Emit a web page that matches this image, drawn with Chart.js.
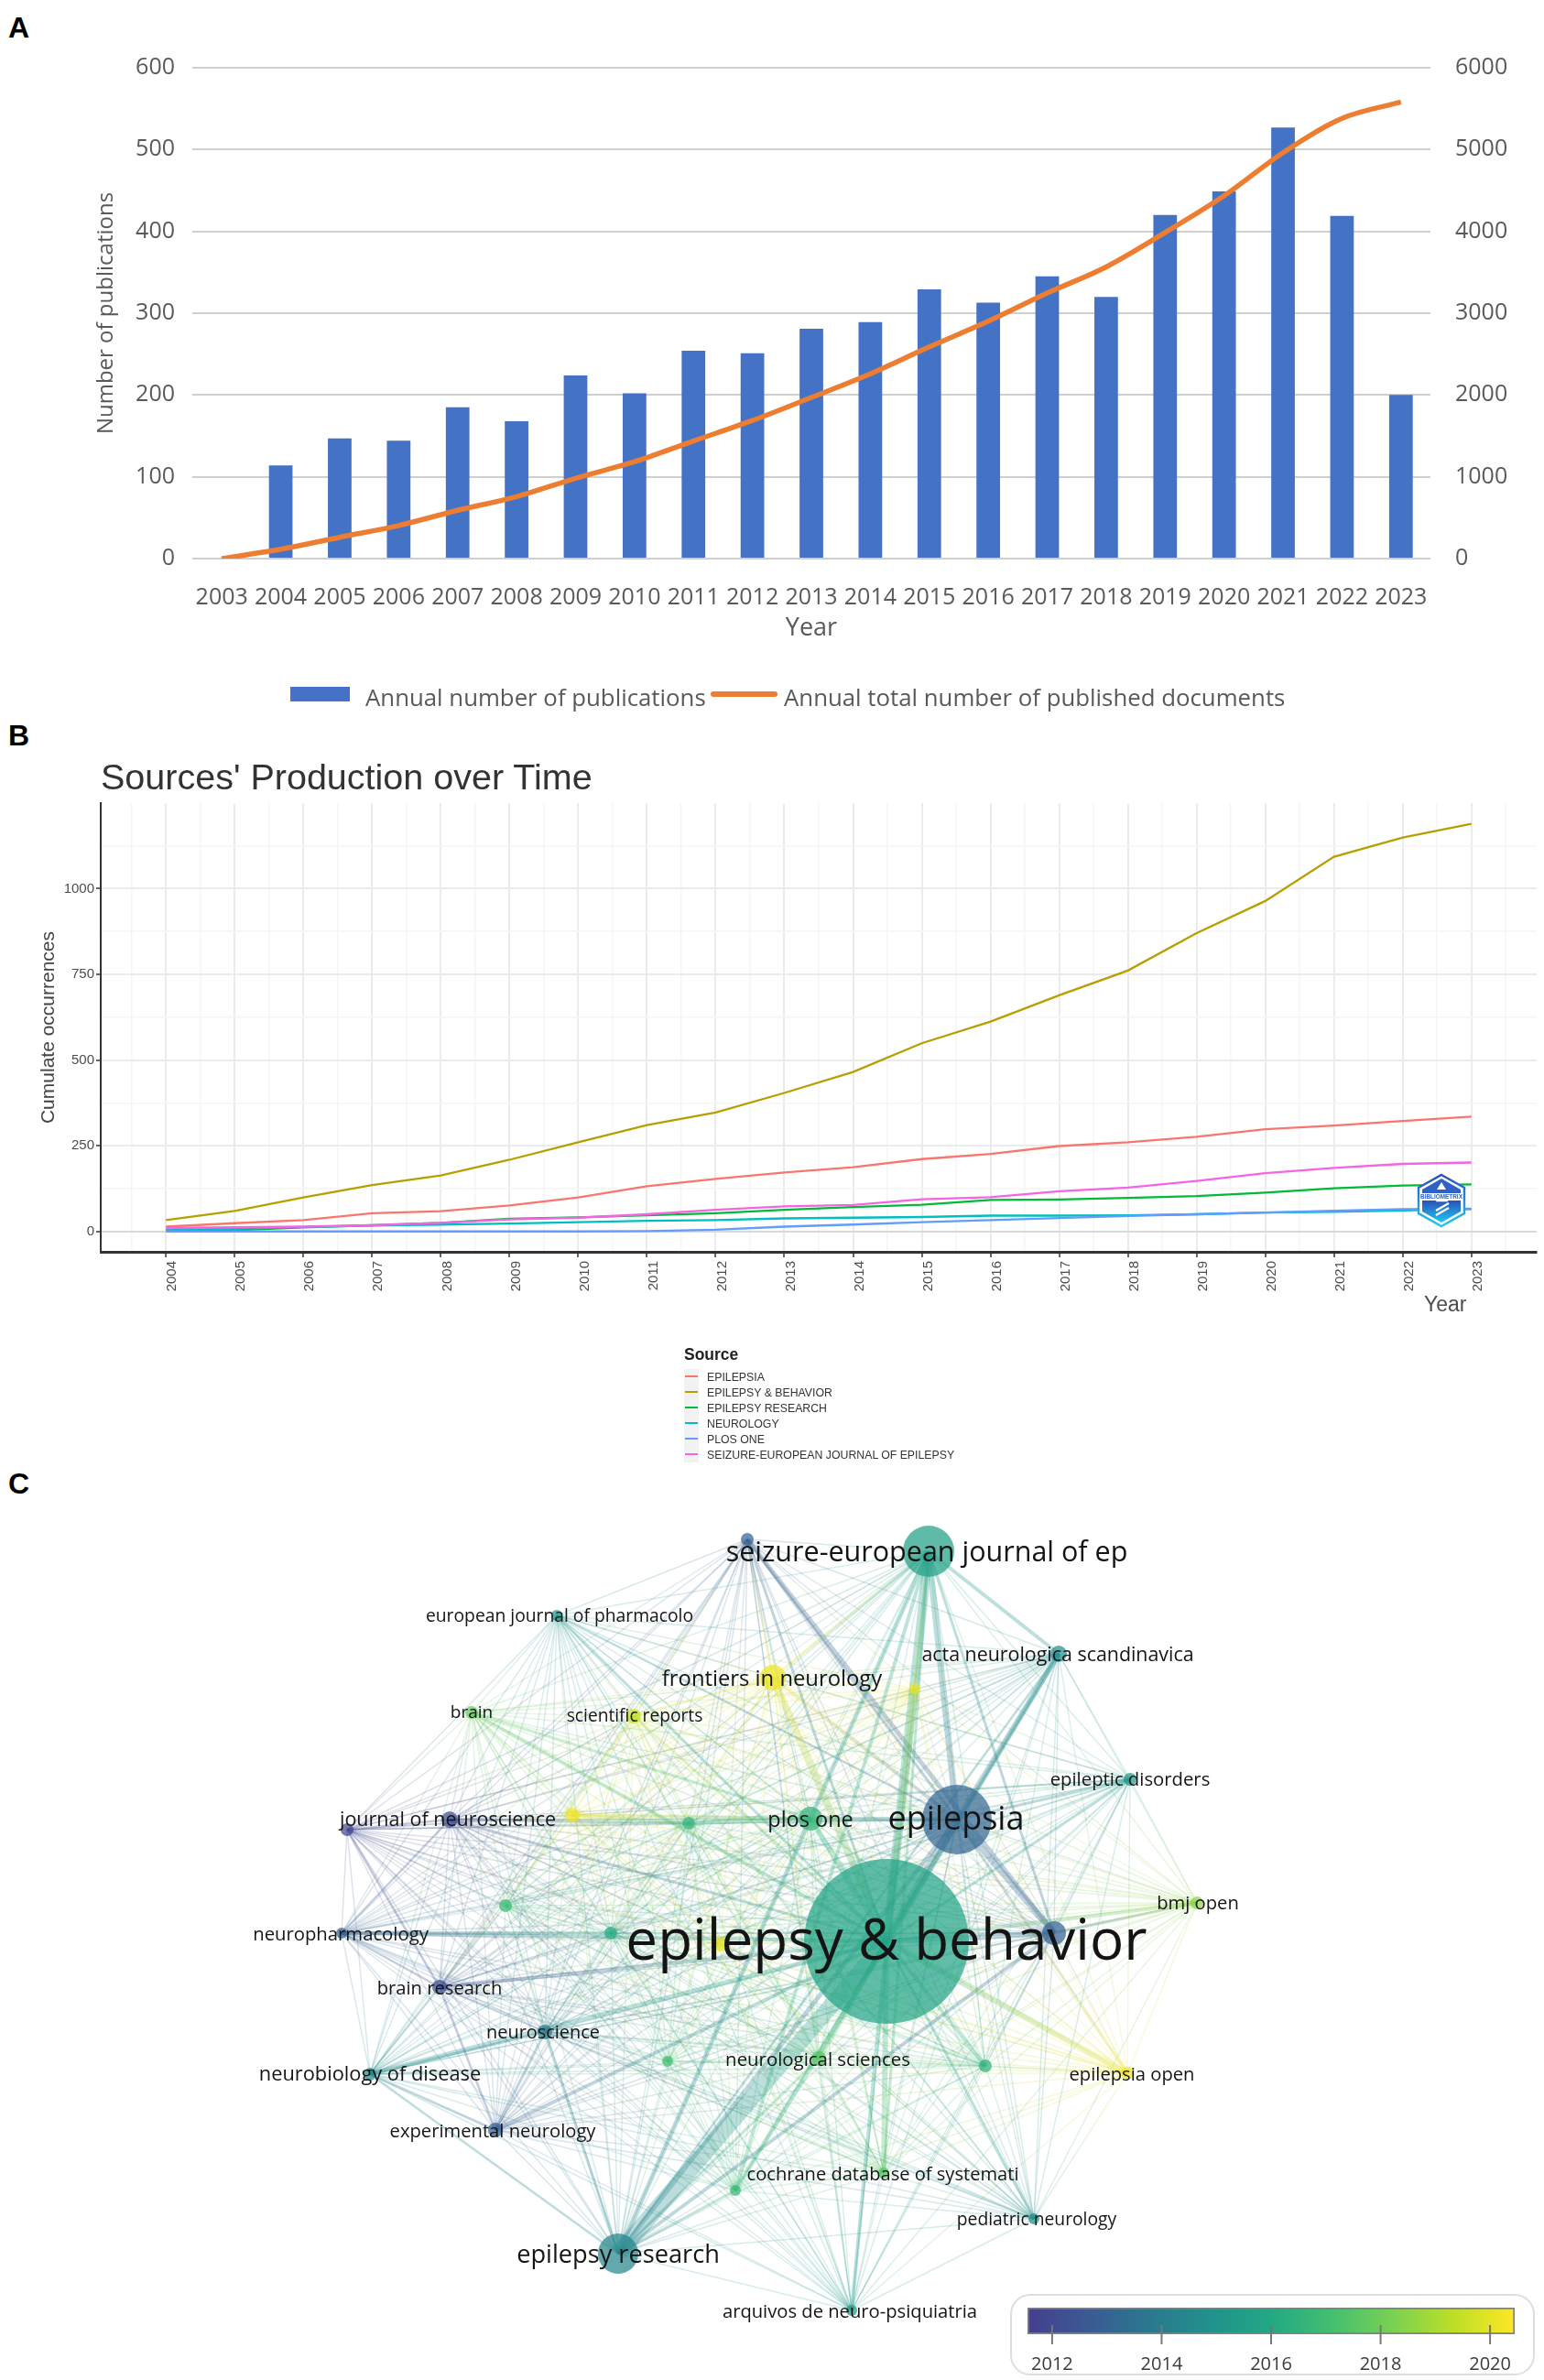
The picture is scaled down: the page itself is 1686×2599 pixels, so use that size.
<!DOCTYPE html>
<html>
<head>
<meta charset="utf-8">
<title>Epilepsy bibliometrics</title>
<script src="https://cdn.jsdelivr.net/npm/chart.js@4"></script>
<style>
html, body { margin: 0; padding: 0; background: #fff; }
body { position: relative; width: 1686px; height: 2599px; overflow: hidden; }
canvas { position: absolute; display: block; }
.txt { position: absolute; white-space: nowrap; line-height: 1; }
.panel { font: bold 32px "Liberation Sans", sans-serif; color: #000; left: 9px; }
.legA { font: 25.8px "Open Sans", sans-serif; color: #595959; top: 743px; }
.legB { font: 12.3px "Liberation Sans", sans-serif; color: #333; left: 772px; }
.keyB { position: absolute; left: 747px; width: 16px; height: 17px; background: #f2f2f2; }
.keyB i { position: absolute; left: 1px; right: 1px; top: 7px; height: 2px; }
</style>
</head>
<body>
<div class="txt panel" style="top:12px">A</div>
<div class="txt panel" style="top:785px">B</div>
<div class="txt panel" style="top:1602px">C</div>

<canvas id="chartA" width="1686" height="780" style="left:0;top:0"></canvas>
<div style="position:absolute;left:317px;top:750px;width:65px;height:16px;background:#4472C4"></div>
<div class="txt legA" style="left:399px">Annual number of publications</div>
<div style="position:absolute;left:776px;top:755px;width:73px;height:6px;border-radius:3px;background:#ED7D31"></div>
<div class="txt legA" style="left:856px">Annual total number of published documents</div>

<canvas id="chartB" width="1686" height="840" style="left:0;top:780px"></canvas>
<div class="txt" style="left:110px;top:826px;font:39.5px 'Liberation Sans',sans-serif;color:#333">Sources' Production over Time</div>
<div class="txt" style="left:1555px;top:1411px;font:23px 'Liberation Sans',sans-serif;color:#4d4d4d">Year</div>
<div class="txt" style="left:747px;top:1469px;font:bold 17.5px 'Liberation Sans',sans-serif;color:#222">Source</div>
<div id="legendB"></div>

<svg style="position:absolute;left:1546px;top:1281px" width="56" height="60" viewBox="0 0 56 60">
  <defs>
    <linearGradient id="hexGrad" x1="0" y1="0" x2="0" y2="1">
      <stop offset="0" stop-color="#2b50b8"/>
      <stop offset="1" stop-color="#1fc8f4"/>
    </linearGradient>
  </defs>
  <polygon points="28,2 53,16 53,44 28,58 3,44 3,16" fill="#fff" stroke="url(#hexGrad)" stroke-width="2.4"/>
  <polygon points="28,6 49,18 49,22 7,22 7,18" fill="#2f62c6"/>
  <polygon points="7,30 49,30 49,42 28,54 7,42" fill="url(#hexGrad)"/>
  <polygon points="28,10 33,18 23,18" fill="#fff"/>
  <path d="M22 46 L36 38 M22 41 L36 33 M28 24 L33 30 L24 30 Z" stroke="#fff" stroke-width="2.4" fill="#fff"/>
  <text x="28" y="27.5" text-anchor="middle" font-family="Liberation Sans" font-weight="bold" font-size="6.4" fill="#2f62c6">BIBLIOMETRIX</text>
</svg>

<canvas id="chartC" width="1686" height="979" style="left:0;top:1620px"></canvas>

<div style="position:absolute;left:1103px;top:2505px;width:569px;height:85px;border:2px solid #dedede;border-radius:22px;box-sizing:content-box"></div>
<canvas id="chartBar" width="583" height="94" style="left:1103px;top:2505px"></canvas>

<script>
// Panel A
const years = ['2003', '2004', '2005', '2006', '2007', '2008', '2009', '2010', '2011', '2012', '2013',
    '2014', '2015', '2016', '2017', '2018', '2019', '2020', '2021', '2022', '2023'];
const annualPublications = [0, 114, 147, 144, 185, 168, 224, 202, 254, 251, 281, 289, 329, 313, 345, 320, 420, 449, 527, 419, 200];
const totalDocuments = [0, 114, 261, 405, 590, 758, 982, 1184, 1438, 1689, 1970, 2259, 2588, 2901, 3246, 3566, 3986, 4435, 4962, 5381, 5581];

// Panel B
const sourceYears = [2004, 2005, 2006, 2007, 2008, 2009, 2010, 2011, 2012, 2013, 2014, 2015, 2016, 2017, 2018, 2019, 2020, 2021, 2022, 2023];
const sourceNames = ['EPILEPSIA', 'EPILEPSY & BEHAVIOR', 'EPILEPSY RESEARCH', 'NEUROLOGY', 'PLOS ONE', 'SEIZURE-EUROPEAN JOURNAL OF EPILEPSY'];
const sourceColors = ['#F8766D', '#B79F00', '#00BA38', '#00BFC4', '#619CFF', '#F564E3'];
const epilepsia = [14, 24, 33, 53, 59, 76, 99, 132, 153, 172, 187, 211, 226, 249, 260, 276, 298, 309, 322, 335];
const epilepsyBehavior = [33, 60, 99, 135, 163, 209, 260, 310, 347, 404, 465, 549, 612, 689, 761, 870, 964, 1093, 1149, 1189];
const epilepsyResearch = [3, 4, 12, 18, 25, 37, 41, 47, 53, 63, 71, 78, 92, 93, 98, 103, 113, 126, 134, 137];
const neurology = [5, 8, 13, 17, 20, 23, 27, 31, 33, 38, 40, 42, 46, 46, 47, 50, 55, 57, 61, 65];
const plosOne = [0, 0, 0, 0, 0, 0, 0, 1, 5, 14, 20, 27, 33, 39, 45, 50, 55, 60, 65, 66];
const seizure = [10, 12, 14, 18, 25, 35, 40, 50, 63, 73, 77, 94, 100, 117, 128, 147, 170, 185, 197, 201];
const sourceSeries = [epilepsia, epilepsyBehavior, epilepsyResearch, neurology, plosOne, seizure];

// Panel C, network layout
const nodeKeys = ['eb', 'epi', 'sz', 'er', 'fr', 'pl', 'ub', 'ns', 'eu', 'br', 'sr', 'jn', 'lp', 'y1', 'g1', 'g2', 'np', 'g3',
    'y2', 'bres', 'nsc', 'g4', 'nd', 'ex', 'g5', 'top', 'y3', 'ac', 'ed', 'bmj', 'g6', 'eo', 'co', 'pe', 'ar'];
const nodeX = [96.8, 104.5, 101.4, 67.5, 84.4, 88.5, 115.1, 89.4, 60.8, 51.5, 69.2, 49.1, 37.9, 62.5, 75.2, 55.2, 37.3, 66.7,
    78.7, 48.0, 59.5, 72.9, 40.4, 54.1, 80.3, 81.6, 99.9, 115.6, 123.4, 130.7, 107.6, 123.1, 96.5, 112.9, 93.0];
const nodeY = [47.9, 61.2, 90.5, 13.8, 76.7, 61.3, 48.8, 35.1, 83.5, 72.9, 72.5, 61.2, 60.1, 61.7, 60.8, 51.8, 48.8, 48.8,
    47.6, 42.9, 38.0, 34.8, 33.4, 27.3, 20.7, 91.8, 75.5, 79.3, 65.6, 52.1, 34.3, 33.5, 22.6, 17.6, 7.6];
const nodeSize = [90, 38, 28, 22, 14, 13, 13, 8, 6, 7, 8, 9, 7, 8, 7, 7, 6, 7, 8, 8, 8, 6, 7, 8, 6, 7, 6, 9, 7, 7, 7, 7, 6, 6, 6];
const nodeYear = [2015.8, 2013.2, 2015.6, 2014.4, 2020.2, 2016.6, 2013, 2017.5, 2015, 2017.8, 2019.5, 2012.2, 2011.9, 2020.2, 2016.6,
    2016.9, 2013, 2016.2, 2020, 2012.2, 2014, 2017, 2014.6, 2012.8, 2016.8, 2013, 2020.2, 2014.8, 2015.2, 2018.5, 2016.5, 2020.2, 2017.5, 2014.8, 2015.3];
const strongLinks = [
    ['er', 'eb', 18], ['eb', 'sz', 10], ['eb', 'epi', 10], ['epi', 'sz', 7], ['epi', 'er', 5], ['sz', 'er', 5],
    ['ac', 'epi', 6], ['ac', 'eb', 5], ['ac', 'sz', 4], ['top', 'ub', 5], ['top', 'epi', 3], ['top', 'eb', 3],
    ['ub', 'eb', 6], ['ub', 'epi', 7], ['ub', 'sz', 3], ['ub', 'er', 4], ['pl', 'eb', 6], ['pl', 'epi', 5], ['pl', 'g1', 5],
    ['y1', 'g1', 4], ['y1', 'pl', 4], ['y3', 'eb', 7], ['y3', 'sz', 4], ['fr', 'eb', 8], ['fr', 'epi', 4], ['fr', 'sz', 3],
    ['eo', 'eb', 6], ['eo', 'epi', 3], ['np', 'g3', 4], ['np', 'eb', 4], ['bres', 'eb', 4], ['br', 'eb', 4], ['br', 'pl', 3],
    ['nd', 'eb', 5], ['nd', 'nsc', 3], ['ex', 'eb', 4], ['ex', 'nsc', 3], ['jn', 'eb', 3], ['jn', 'g1', 3], ['jn', 'np', 2.5],
    ['g5', 'eb', 5], ['g5', 'sz', 4], ['er', 'nsc', 3], ['er', 'nd', 2.5], ['ns', 'eb', 6], ['ar', 'eb', 4], ['pe', 'eb', 3],
    ['g6', 'eb', 4], ['co', 'eb', 6], ['co', 'sz', 3], ['bmj', 'eb', 4], ['bmj', 'ub', 3], ['ed', 'eb', 3], ['ed', 'epi', 3],
    ['sr', 'eb', 3], ['fr', 'sr', 2.5], ['eu', 'eb', 3], ['eu', 'epi', 2.5], ['ac', 'er', 2.5], ['er', 'g5', 3], ['er', 'ns', 3],
    ['top', 'fr', 2.5], ['lp', 'jn', 2.5], ['lp', 'bres', 2.5], ['bres', 'np', 2.5], ['ex', 'bres', 2.5], ['ex', 'nd', 2.5]
];

// label placement: key, text, font px, offset from node in px
const nodeLabels = [
    ['eb', 'epilepsy & behavior', 62, 0, 2],
    ['epi', 'epilepsia', 36, -1, 1],
    ['sz', 'seizure-european journal of ep', 30.5, -2, 2],
    ['er', 'epilepsy research', 27.2, 0, 2],
    ['fr', 'frontiers in neurology', 23.8, -1, 2],
    ['pl', 'plos one', 23.5, 0, 2],
    ['ns', 'neurological sciences', 20.4, -1, 2],
    ['eu', 'european journal of pharmacolo', 19.3, 3, 2],
    ['br', 'brain', 19, 0, 1],
    ['sr', 'scientific reports', 19.2, 1, 1],
    ['jn', 'journal of neuroscience', 21.5, -2, 1],
    ['np', 'neuropharmacology', 20.3, -1, 2],
    ['bres', 'brain research', 20.2, 0, 2],
    ['nsc', 'neuroscience', 19.9, -2, 1],
    ['nd', 'neurobiology of disease', 21.8, 0, 1],
    ['ex', 'experimental neurology', 20.2, -3, 2],
    ['ac', 'acta neurologica scandinavica', 21.4, -1, 2],
    ['ed', 'epileptic disorders', 20.3, 0, 1],
    ['bmj', 'bmj open', 20.2, 1, 1],
    ['eo', 'epilepsia open', 20.2, 5, 2],
    ['co', 'cochrane database of systemati', 20.1, -1, 2],
    ['pe', 'pediatric neurology', 19.3, 3, 2],
    ['ar', 'arquivos de neuro-psiquiatria', 20.2, -2, 2]
];

// colour bar
const barRange = [2011.55, 2020.45];
const viridis = ['#453e8f', '#3b5a93', '#2a788e', '#21918c', '#22a884', '#44bf70', '#7ad151', '#bddf26', '#fde725'];

Chart.defaults.animation = false;
Chart.defaults.responsive = false;
Chart.defaults.events = [];
Chart.defaults.plugins.legend.display = false;
Chart.defaults.plugins.tooltip.enabled = false;

function yearColor(year) {
    const pos = Math.min(0.9999, Math.max(0, (year - barRange[0]) / (barRange[1] - barRange[0]))) * (viridis.length - 1);
    const i = Math.floor(pos);
    const f = pos - i;
    const a = viridis[i], b = viridis[i + 1];
    return [1, 3, 5].map(k => {
        const p = parseInt(a.substr(k, 2), 16), q = parseInt(b.substr(k, 2), 16);
        return Math.round(p + (q - p) * f);
    });
}
function rgba(rgb, alpha) {
    return 'rgba(' + rgb[0] + ',' + rgb[1] + ',' + rgb[2] + ',' + alpha + ')';
}
// keep a fixed scale range while ticks stay on round values
function fixRange(min, max) {
    return s => { s.min = min; s.max = max; };
}

// Panel A chart
new Chart(document.getElementById('chartA'), {
    data: {
        labels: years,
        datasets: [{
            type: 'line',
            label: 'Annual total number of published documents',
            data: totalDocuments,
            yAxisID: 'y1',
            borderColor: '#ED7D31',
            borderWidth: 5.5,
            pointRadius: 0,
            cubicInterpolationMode: 'monotone',
            order: 1
        }, {
            type: 'bar',
            label: 'Annual number of publications',
            data: annualPublications,
            yAxisID: 'y',
            backgroundColor: '#4472C4',
            barPercentage: 0.4,
            categoryPercentage: 1,
            order: 2
        }]
    },
    options: {
        layout: { padding: { top: 74 } },
        scales: {
            x: {
                afterFit: s => { s.height = 170; },
                grid: { display: false },
                border: { display: false },
                ticks: { font: { family: 'Open Sans', size: 25 }, color: '#595959', padding: 20, maxRotation: 0, autoSkip: false },
                title: { display: true, text: 'Year', font: { family: 'Open Sans', size: 27 }, color: '#595959', padding: { top: 0, bottom: 77 } }
            },
            y: {
                min: 0,
                max: 600,
                afterFit: s => { s.width = 210; },
                grid: { color: '#cfcfcf', lineWidth: 2, drawTicks: false },
                border: { display: false },
                ticks: { stepSize: 100, font: { family: 'Open Sans', size: 25 }, color: '#595959', padding: 19 },
                title: { display: true, text: 'Number of publications', font: { family: 'Open Sans', size: 24 }, color: '#595959', padding: { top: 102 } }
            },
            y1: {
                position: 'right',
                min: 0,
                max: 6000,
                afterFit: s => { s.width = 124; },
                grid: { display: false },
                border: { display: false },
                ticks: { stepSize: 1000, font: { family: 'Open Sans', size: 25 }, color: '#595959', padding: 19, callback: v => String(v) }
            }
        }
    }
});

// Panel B chart
new Chart(document.getElementById('chartB'), {
    type: 'line',
    data: {
        labels: sourceYears,
        datasets: sourceNames.map((name, i) => ({
            label: name,
            data: sourceSeries[i].map((v, k) => ({ x: sourceYears[k], y: v })),
            borderColor: sourceColors[i],
            borderWidth: 2.3,
            pointRadius: 0,
            order: 6 - i
        }))
    },
    options: {
        layout: { padding: { top: 97, right: 8 } },
        scales: {
            x: {
                type: 'linear',
                min: 2003.05,
                max: 2023.95,
                afterBuildTicks: fixRange(2003.05, 2023.95),
                afterFit: s => { s.height = 253; },
                grid: {
                    color: ctx => ctx.tick && Number.isInteger(ctx.tick.value) ? '#ebebeb' : '#f5f5f5',
                    lineWidth: ctx => ctx.tick && Number.isInteger(ctx.tick.value) ? 2 : 1.5,
                    tickColor: ctx => ctx.tick && Number.isInteger(ctx.tick.value) ? '#333' : 'rgba(0,0,0,0)',
                    tickLength: 6,
                    tickWidth: 1.5
                },
                border: { color: '#333', width: 3 },
                ticks: {
                    stepSize: 0.5,
                    includeBounds: false,
                    autoSkip: false,
                    minRotation: 90,
                    maxRotation: 90,
                    labelOffset: 7,
                    padding: 4,
                    font: { family: 'Liberation Sans', size: 15 },
                    color: '#4d4d4d',
                    callback: v => Number.isInteger(v) ? String(v) : ''
                }
            },
            y: {
                min: -59.5,
                max: 1249.5,
                afterBuildTicks: fixRange(-59.5, 1249.5),
                afterFit: s => { s.width = 110; },
                grid: {
                    color: ctx => ctx.tick && ctx.tick.value === 0 ? '#d9d9d9' : (ctx.tick && ctx.tick.value % 250 === 0 ? '#ebebeb' : '#f5f5f5'),
                    lineWidth: ctx => ctx.tick && ctx.tick.value % 250 === 0 ? 2 : 1.5,
                    tickColor: ctx => ctx.tick && ctx.tick.value % 250 === 0 ? '#333' : 'rgba(0,0,0,0)',
                    tickLength: 5,
                    tickWidth: 1.5
                },
                border: { color: '#333', width: 2 },
                ticks: {
                    stepSize: 125,
                    includeBounds: false,
                    autoSkip: false,
                    padding: 2,
                    font: { family: 'Liberation Sans', size: 15 },
                    color: '#4d4d4d',
                    callback: v => v % 250 === 0 ? String(v) : ''
                },
                title: { display: true, text: 'Cumulate occurrences', font: { family: 'Liberation Sans', size: 21 }, color: '#444', padding: { top: 41 } }
            }
        }
    }
});

// Panel B legend
const legendB = document.getElementById('legendB');
sourceNames.forEach((name, i) => {
    const top = 1495 + i * 17;
    const key = document.createElement('div');
    key.className = 'keyB';
    key.style.top = top + 'px';
    key.innerHTML = '<i style="background:' + sourceColors[i] + '"></i>';
    legendB.appendChild(key);
    const txt = document.createElement('div');
    txt.className = 'txt legB';
    txt.style.top = (top + 2) + 'px';
    txt.textContent = name;
    legendB.appendChild(txt);
});

// Panel C chart, one line dataset per link
function linkStrength(a, b) {
    const hit = strongLinks.find(l => (l[0] === a && l[1] === b) || (l[0] === b && l[1] === a));
    return hit ? hit[2] : 0;
}
const linkSets = [];
nodeKeys.forEach((a, i) => {
    nodeKeys.forEach((b, j) => {
        if (j <= i) return;
        const s = linkStrength(a, b);
        const alpha = s ? 0.3 : 0.18;
        linkSets.push({
            type: 'line',
            data: [{ x: nodeX[i], y: nodeY[i] }, { x: nodeX[j], y: nodeY[j] }],
            pointRadius: 0,
            borderWidth: s || 1.4,
            order: s ? 2 : 3,
            borderColor: ctx => {
                const c = ctx.chart;
                if (!c.chartArea || !c.scales.x) return rgba(yearColor(nodeYear[i]), alpha);
                const x0 = c.scales.x.getPixelForValue(nodeX[i]), y0 = c.scales.y.getPixelForValue(nodeY[i]);
                const x1 = c.scales.x.getPixelForValue(nodeX[j]), y1 = c.scales.y.getPixelForValue(nodeY[j]);
                if (![x0, y0, x1, y1].every(Number.isFinite)) return rgba(yearColor(nodeYear[i]), alpha);
                const g = c.ctx.createLinearGradient(x0, y0, x1, y1);
                g.addColorStop(0, rgba(yearColor(nodeYear[i]), alpha));
                g.addColorStop(1, rgba(yearColor(nodeYear[j]), alpha));
                return g;
            }
        });
    });
});

const nodeLabelPlugin = {
    id: 'nodeLabels',
    afterDatasetsDraw(chart) {
        const { ctx, scales } = chart;
        ctx.save();
        ctx.textAlign = 'center';
        ctx.textBaseline = 'middle';
        ctx.fillStyle = '#141414';
        nodeLabels.forEach(l => {
            const i = nodeKeys.indexOf(l[0]);
            ctx.font = l[2] + 'px "Open Sans"';
            ctx.fillText(l[1], scales.x.getPixelForValue(nodeX[i]) + l[3], scales.y.getPixelForValue(nodeY[i]) + l[4]);
        });
        ctx.restore();
    }
};

new Chart(document.getElementById('chartC'), {
    data: {
        datasets: [{
            type: 'bubble',
            data: nodeKeys.map((k, i) => ({ x: nodeX[i], y: nodeY[i], r: nodeSize[i] })),
            backgroundColor: nodeYear.map(y => rgba(yearColor(y), 0.72)),
            borderWidth: 0,
            order: 1
        }].concat(linkSets)
    },
    options: {
        layout: { autoPadding: false },
        scales: {
            x: { type: 'linear', min: 0, max: 168.6, afterBuildTicks: fixRange(0, 168.6), display: false },
            y: { type: 'linear', min: 0, max: 97.9, afterBuildTicks: fixRange(0, 97.9), display: false }
        }
    },
    plugins: [nodeLabelPlugin]
});

// colour bar chart
const barTicks = {
    id: 'barTicks',
    afterDatasetsDraw(chart) {
        const { ctx, scales, chartArea } = chart;
        ctx.save();
        ctx.strokeStyle = '#777';
        ctx.lineWidth = 2;
        scales.x.ticks.forEach(t => {
            const px = scales.x.getPixelForValue(t.value);
            ctx.beginPath();
            ctx.moveTo(px, chartArea.bottom - 10);
            ctx.lineTo(px, chartArea.bottom + 11);
            ctx.stroke();
        });
        ctx.restore();
    }
};
new Chart(document.getElementById('chartBar'), {
    type: 'bar',
    data: {
        labels: ['year'],
        datasets: [{
            data: [barRange],
            barPercentage: 1,
            categoryPercentage: 1,
            borderSkipped: false,
            borderWidth: 2,
            borderColor: '#808080',
            backgroundColor: ctx => {
                const area = ctx.chart.chartArea;
                if (!area) return viridis[0];
                const g = ctx.chart.ctx.createLinearGradient(area.left, 0, area.right, 0);
                viridis.forEach((c, i) => g.addColorStop(i / (viridis.length - 1), c));
                return g;
            }
        }]
    },
    options: {
        indexAxis: 'y',
        layout: { padding: { top: 15, left: 19, right: 32 } },
        scales: {
            y: { display: false },
            x: {
                min: barRange[0],
                max: barRange[1],
                afterBuildTicks: fixRange(barRange[0], barRange[1]),
                afterFit: s => { s.height = 50; },
                grid: { display: false },
                border: { display: false },
                ticks: {
                    stepSize: 2,
                    includeBounds: false,
                    padding: 13,
                    font: { family: 'Open Sans', size: 20 },
                    color: '#3a3a3a',
                    callback: v => String(v)
                }
            }
        }
    },
    plugins: [barTicks]
});
</script>
</body>
</html>
